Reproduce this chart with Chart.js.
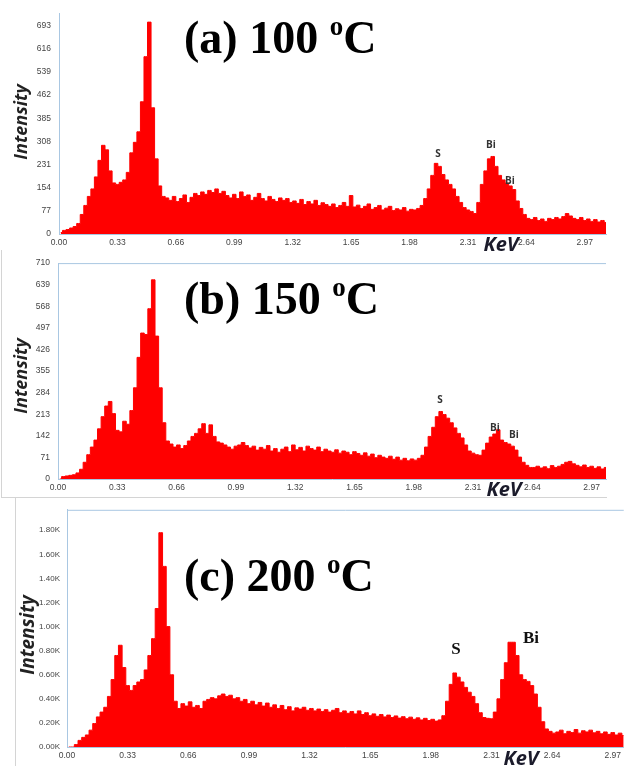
<!DOCTYPE html>
<html>
<head>
<meta charset="utf-8">
<script src="https://cdn.jsdelivr.net/npm/chart.js@4.4.1/dist/chart.umd.min.js"></script>
<style>
  body { margin: 0; width: 625px; height: 766px; background: #fff; position: relative; overflow: hidden; font-family: 'Open Sans', sans-serif; }
  canvas { position: absolute; left: 0; }
  .title { position: absolute; left: 184px; font-family: 'Liberation Serif', 'Times New Roman', serif; font-weight: bold; font-size: 46px; line-height: 1; color: #000; white-space: nowrap; }
  .title span { font-size: 27px; position: relative; top: -18px; }
  .ylab { position: absolute; transform: translate(-50%, -50%) rotate(-90deg); font-style: italic; font-weight: bold; font-size: 18px; color: #222; white-space: nowrap; }
  .xlab { position: absolute; transform: translate(-50%, -50%); font-style: italic; font-weight: bold; font-size: 20px; color: #1b1b2b; }
  .peak { position: absolute; transform: translate(-50%, -50%); font-weight: bold; font-size: 10px; color: #333; }
  .peak.big { font-family: 'Liberation Serif', serif; font-size: 17px; color: #111; }
  .frame { position: absolute; background: #d4d4d4; }
</style>
</head>
<body>
<canvas id="chartA" width="625" height="250" style="top:0"></canvas>
<canvas id="chartB" width="625" height="250" style="top:250px"></canvas>
<canvas id="chartC" width="625" height="268" style="top:498px"></canvas>

<div class="frame" style="left:1px; top:250px; width:1px; height:247px"></div>
<div class="frame" style="left:1px; top:497px; width:606px; height:1px"></div>
<div class="frame" style="left:15px; top:498px; width:1px; height:268px"></div>

<div class="title" style="top:15px">(a) 100 <span>o</span>C</div>
<div class="title" style="top:276px">(b) 150 <span>o</span>C</div>
<div class="title" style="top:553px">(c) 200 <span>o</span>C</div>

<div class="ylab" style="left:20px; top:122px">Intensity</div>
<div class="ylab" style="left:20px; top:376px">Intensity</div>
<div class="ylab" style="left:27px; top:635px; font-size:19px">Intensity</div>

<div class="xlab" style="left:501px; top:243px">KeV</div>
<div class="xlab" style="left:504px; top:488px">KeV</div>
<div class="xlab" style="left:521px; top:757px">KeV</div>

<div class="peak" style="left:438px; top:153px">S</div>
<div class="peak" style="left:491px; top:144px">Bi</div>
<div class="peak" style="left:510px; top:180px">Bi</div>
<div class="peak" style="left:440px; top:399px">S</div>
<div class="peak" style="left:495px; top:427px">Bi</div>
<div class="peak" style="left:514px; top:434px">Bi</div>
<div class="peak big" style="left:456px; top:649px">S</div>
<div class="peak big" style="left:531px; top:638px">Bi</div>

<script>
// EDS spectra, counts per 0.02 keV bin starting at 0.00 keV
const binWidth = 0.02;

const energyTicks = [0, 0.33, 0.66, 0.99, 1.32, 1.65, 1.98, 2.31, 2.64, 2.97];
const yTicksA = [0, 77, 154, 231, 308, 385, 462, 539, 616, 693];
const yTicksB = [0, 71, 142, 213, 284, 355, 426, 497, 568, 639, 710];
const yTicksC = [0, 200, 400, 600, 800, 1000, 1200, 1400, 1600, 1800];

// (a) 100 oC
const countsA = [
  5, 12, 15, 20, 25, 35, 65, 95, 125, 150,
  190, 245, 295, 280, 210, 170, 165, 172, 180, 205,
  270, 305, 340, 440, 590, 705, 420, 250, 160, 125,
  120, 112, 125, 108, 118, 130, 105, 122, 135, 128,
  140, 132, 145, 138, 150, 135, 142, 128, 120, 132,
  118, 140, 125, 130, 112, 122, 135, 118, 110, 125,
  115, 108, 120, 112, 118, 105, 110, 102, 115, 98,
  108, 100, 112, 95, 104, 98, 92, 100, 88, 95,
  105, 92, 128, 90, 96, 85, 92, 100, 82, 88,
  95, 80, 86, 92, 78, 84, 80, 88, 76, 82,
  80, 85, 95, 118, 150, 195, 235, 225, 198, 180,
  165, 150, 125, 105, 88, 80, 75, 68, 105, 165,
  210, 250, 258, 225, 195, 180, 170, 160, 148, 110,
  85, 65, 52, 48, 55, 45, 50, 42, 52, 48,
  55, 50, 58, 68, 60, 52, 48, 55, 45, 50,
  42, 48, 40, 45, 38
];

// (b) 150 oC
const countsB = [
  0, 8, 10, 12, 14, 20, 32, 55, 80, 105,
  128, 165, 205, 240, 255, 215, 160, 155, 190, 180,
  225, 300, 400, 480, 475, 560, 655, 470, 300, 185,
  125, 115, 105, 112, 100, 110, 125, 140, 150, 165,
  182, 150, 178, 140, 122, 118, 112, 105, 98, 108,
  112, 120, 110, 102, 108, 95, 104, 98, 110, 92,
  100, 88, 98, 105, 90, 112, 96, 104, 92, 108,
  100, 95, 105, 90, 98, 92, 88, 96, 85, 92,
  88, 80, 90, 84, 78, 86, 75, 82, 70, 78,
  72, 68, 75, 65, 72, 62, 68, 60, 66, 62,
  68, 78, 105, 140, 170, 205, 222, 212, 200, 185,
  168, 150, 135, 112, 92, 85, 80, 78, 95, 118,
  138, 148, 162, 128, 120, 115, 108, 95, 72, 55,
  45, 38, 38, 42, 36, 40, 34, 44, 38, 42,
  48, 55, 58, 50, 45, 40, 46, 38, 42, 35,
  40, 33, 38
];

// (c) 200 oC
const countsC = [
  0, 0, 20, 55, 80, 100, 140, 195, 250, 290,
  330, 420, 560, 760, 845, 660, 510, 470, 510, 540,
  560, 640, 760, 900, 1150, 1780, 1500, 1000, 600, 380,
  320, 360, 340, 375, 330, 345, 320, 380, 395, 410,
  400, 425, 440, 420, 430, 400, 410, 380, 395, 360,
  380, 350, 370, 340, 365, 330, 350, 320, 345, 310,
  335, 300, 325, 315, 330, 305, 320, 300, 315, 295,
  310, 290, 305, 320, 285, 300, 280, 295, 275, 300,
  270, 285, 260, 275, 255, 270, 250, 265, 245, 258,
  240, 252, 235, 248, 230, 242, 225, 238, 220, 230,
  215, 225, 260, 380, 520, 615, 580, 540, 495, 455,
  420, 360, 285, 245, 238, 235, 290, 400, 560, 700,
  870, 870, 760, 600, 560, 545, 510, 440, 330, 210,
  150, 130, 115, 125, 140, 110, 130, 120, 145, 115,
  135, 125, 140, 118, 130, 110, 125, 105, 120, 100,
  115, 95
];

const axisBlue = '#a9c7e2';
const tickFont = { family: "'Liberation Sans', Arial, sans-serif", size: 8.5 };

const topEdge = {
  id: 'topEdge',
  afterDraw(chart) {
    const a = chart.chartArea, ctx = chart.ctx;
    ctx.save();
    ctx.strokeStyle = axisBlue;
    ctx.lineWidth = 1;
    ctx.beginPath();
    ctx.moveTo(a.left, a.top + 0.5);
    ctx.lineTo(a.right, a.top + 0.5);
    ctx.stroke();
    ctx.restore();
  }
};

function spectrum(id, counts, cfg) {
  const pts = counts.map((v, i) => ({ x: binWidth * (i + 0.5), y: v }));
  new Chart(document.getElementById(id), {
    type: 'line',
    data: {
      datasets: [{
        data: pts,
        stepped: 'middle',
        fill: 'origin',
        backgroundColor: '#ff0000',
        borderColor: '#ff0000',
        borderWidth: 1,
        pointRadius: 0
      }]
    },
    options: {
      responsive: false,
      animation: false,
      events: [],
      layout: { padding: { top: cfg.top, right: cfg.right, left: 0, bottom: 0 } },
      plugins: { legend: { display: false }, tooltip: { enabled: false } },
      scales: {
        x: {
          type: 'linear',
          min: 0,
          max: cfg.xMax,
          afterBuildTicks: s => { s.ticks = energyTicks.map(v => ({ value: v })); },
          afterFit: s => { s.height = cfg.xAxisH; },
          grid: { display: false, drawTicks: false },
          border: { color: axisBlue },
          ticks: { font: tickFont, color: '#444', padding: 4, maxRotation: 0, autoSkip: false,
                   callback: v => Number(v).toFixed(2) }
        },
        y: {
          min: 0,
          max: cfg.yMax,
          afterBuildTicks: s => { s.ticks = cfg.yTicks.map(v => ({ value: v })); },
          afterFit: s => { s.width = cfg.yAxisW; },
          grid: { display: false, drawTicks: false },
          border: { color: axisBlue },
          ticks: { font: cfg.yFont || tickFont, color: '#444', padding: cfg.yPad || 8, autoSkip: false,
                   callback: cfg.yFormat }
        }
      }
    },
    plugins: cfg.boxed ? [topEdge] : []
  });
}

spectrum('chartA', countsA, { top: 10, right: 19, xAxisH: 16, yAxisW: 59, xMax: 3.09, yMax: 735,
  yTicks: yTicksA, yFormat: v => String(v), boxed: false });
spectrum('chartB', countsB, { top: 5, right: 19, xAxisH: 21, yAxisW: 58, xMax: 3.05, yMax: 710,
  yTicks: yTicksB, yFormat: v => String(v), boxed: true });
spectrum('chartC', countsC, { top: 4, right: 0, xAxisH: 19, yAxisW: 67, xMax: 3.03, yMax: 1970,
  yTicks: yTicksC, yFormat: v => (v / 1000).toFixed(2) + 'K', boxed: true,
  yFont: { family: tickFont.family, size: 8 }, yPad: 7 });
</script>
</body>
</html>
